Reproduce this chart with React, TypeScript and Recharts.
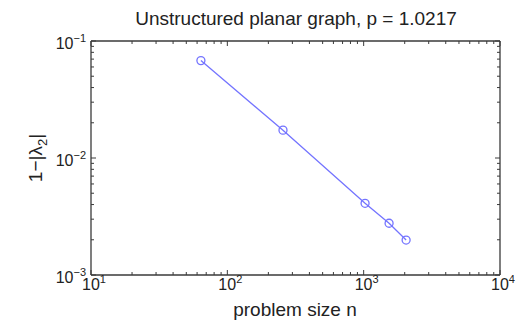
import { Line, LineChart, XAxis, YAxis } from "recharts";

// problem size n vs 1-|lambda_2|
const sizes = [64, 256, 1024, 1536, 2048];
const gaps = [0.068, 0.0173, 0.0041, 0.00277, 0.00199];

const xMajor = [10, 100, 1000, 10000];
const xTicks = [
  10, 20, 30, 40, 50, 60, 70, 80, 90,
  100, 200, 300, 400, 500, 600, 700, 800, 900,
  1000, 2000, 3000, 4000, 5000, 6000, 7000, 8000, 9000, 10000,
];
const yMajor = [0.001, 0.01, 0.1];
const yTicks = [
  0.001, 0.002, 0.003, 0.004, 0.005, 0.006, 0.007, 0.008, 0.009,
  0.01, 0.02, 0.03, 0.04, 0.05, 0.06, 0.07, 0.08, 0.09, 0.1,
];

const data = sizes.map((n, i) => ({ n, gap: gaps[i] }));

const FRAME = "#3a3a3a";
const BLUE = "#7474ff";
const FONT = "'Liberation Sans', Arial, sans-serif";

const isMajor = (v: number, majors: number[]) =>
  majors.some((m) => Math.abs(m - v) / m < 1e-6);

const expOf = (v: number) => Math.round(Math.log10(v));

function makeTick(side: "bottom" | "top" | "left" | "right") {
  return (props: any) => {
    const { x, y, payload } = props;
    const v = payload.value as number;
    const major = isMajor(v, side === "bottom" || side === "top" ? xMajor : yMajor);
    const len = major ? 5 : 3;
    let line;
    if (side === "bottom") line = <line x1={x} y1={y} x2={x} y2={y - len} />;
    else if (side === "top") line = <line x1={x} y1={y} x2={x} y2={y + len} />;
    else if (side === "left") line = <line x1={x} y1={y} x2={x + len} y2={y} />;
    else line = <line x1={x} y1={y} x2={x - len} y2={y} />;
    const e = expOf(v);
    const exp = e < 0 ? `\u2212${-e}` : `${e}`;
    return (
      <g stroke={FRAME} strokeWidth={1}>
        {line}
        {major && side === "bottom" && (
          <text x={x + 3} y={y + 15} textAnchor="middle" fontSize={16} fill="#222" stroke="none" fontFamily={FONT}>
            <tspan>10</tspan>
            <tspan dy={-7} fontSize={11}>{exp}</tspan>
          </text>
        )}
        {major && side === "left" && (
          <text x={x - 5} y={y + 7.5} textAnchor="end" fontSize={16} fill="#222" stroke="none" fontFamily={FONT}>
            <tspan>10</tspan>
            <tspan dy={-7} fontSize={11}>{exp}</tspan>
          </text>
        )}
      </g>
    );
  };
}

export default function App() {
  return (
    <div style={{ position: "absolute", left: 0, top: 0, width: 517, height: 323, background: "#fff" }}>
      <LineChart
        width={517}
        height={323}
        data={data}
        margin={{ top: 40, right: 16, bottom: 0, left: 0 }}
      >
        <XAxis
          dataKey="n"
          type="number"
          scale="log"
          domain={[10, 10000]}
          ticks={xTicks}
          interval={0}
          height={48}
          tickSize={0}
          tickMargin={0}
          stroke={FRAME}
          strokeWidth={1.3}
          tick={makeTick("bottom")}
          allowDataOverflow
        />
        <XAxis
          xAxisId="top"
          orientation="top"
          dataKey="n"
          type="number"
          scale="log"
          domain={[10, 10000]}
          ticks={xTicks}
          interval={0}
          height={1}
          tickSize={0}
          tickMargin={0}
          stroke={FRAME}
          strokeWidth={1.3}
          tick={makeTick("top")}
          allowDataOverflow
        />
        <YAxis
          type="number"
          scale="log"
          domain={[0.001, 0.1]}
          ticks={yTicks}
          interval={0}
          width={91}
          tickSize={0}
          tickMargin={0}
          stroke={FRAME}
          strokeWidth={1.3}
          tick={makeTick("left")}
          allowDataOverflow
        />
        <YAxis
          yAxisId="right"
          orientation="right"
          type="number"
          scale="log"
          domain={[0.001, 0.1]}
          ticks={yTicks}
          interval={0}
          width={1}
          tickSize={0}
          tickMargin={0}
          stroke={FRAME}
          strokeWidth={1.3}
          tick={makeTick("right")}
          allowDataOverflow
        />
        {/* invisible twin so the top/right frame axes get drawn */}
        <Line
          xAxisId="top"
          yAxisId="right"
          dataKey="gap"
          stroke="none"
          dot={false}
          activeDot={false}
          legendType="none"
          isAnimationActive={false}
        />
        <Line
          dataKey="gap"
          stroke={BLUE}
          strokeWidth={1.3}
          dot={{ r: 4, stroke: BLUE, strokeWidth: 1.3, fill: "none" }}
          isAnimationActive={false}
        />
      </LineChart>
      <svg
        width={517}
        height={323}
        style={{ position: "absolute", left: 0, top: 0, pointerEvents: "none" }}
        fontFamily={FONT}
        fill="#222"
      >
        <text x={296} y={25} textAnchor="middle" fontSize={19}>
          Unstructured planar graph, p = 1.0217
        </text>
        <text x={295} y={316} textAnchor="middle" fontSize={19}>
          problem size n
        </text>
        <text transform="translate(42,158) rotate(-90)" textAnchor="middle" fontSize={19}>
          <tspan>1−|λ</tspan>
          <tspan dy={5} fontSize={13}>2</tspan>
          <tspan dy={-5}>|</tspan>
        </text>
      </svg>
    </div>
  );
}
